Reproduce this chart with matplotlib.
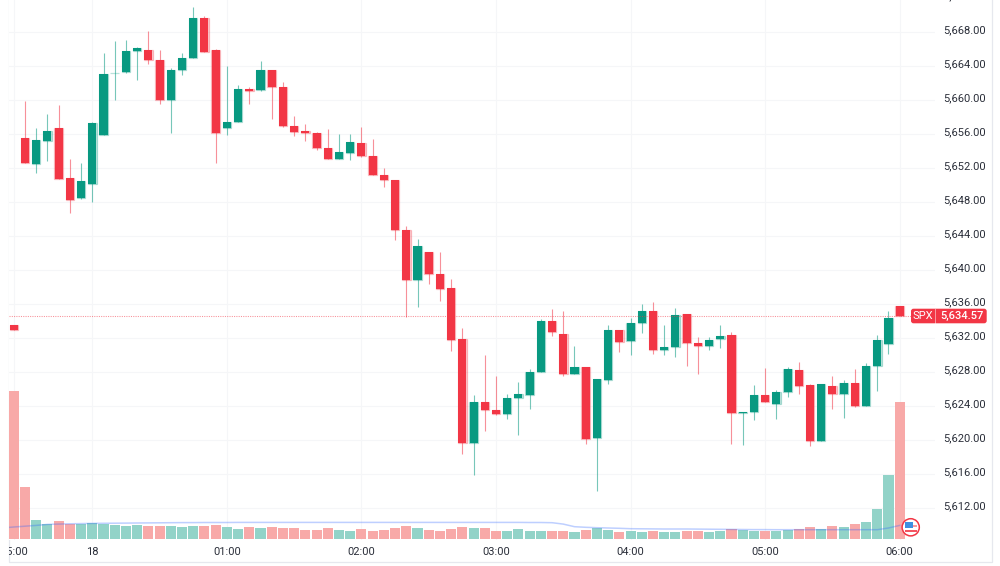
import matplotlib
matplotlib.use("Agg")
import matplotlib.pyplot as plt
from matplotlib.patches import Rectangle, Circle, FancyBboxPatch
from matplotlib.transforms import IdentityTransform, Bbox, ScaledTranslation
from matplotlib.lines import Line2D
import numpy as np

plt.rcParams["font.family"] = ["Roboto", "DejaVu Sans"]

# SPX 5-minute session
opens = [5633.53, 5655.51, 5652.41, 5655.15, 5656.65, 5650.83, 5648.43, 5650.12, 5655.90, 5663.09,
         5663.29, 5665.77, 5665.85, 5664.70, 5659.99, 5663.49, 5664.86, 5669.62, 5665.85, 5656.69,
         5657.43, 5661.25, 5661.13, 5663.44, 5661.49, 5656.92, 5656.33, 5656.13, 5654.29, 5653.03,
         5653.77, 5654.92, 5653.42, 5651.14, 5650.55, 5644.69, 5638.73, 5642.03, 5639.47, 5637.85,
         5631.81, 5619.62, 5624.49, 5623.47, 5623.08, 5624.88, 5625.28, 5627.91, 5633.96, 5632.48,
         5627.76, 5628.59, 5620.17, 5627.05, 5632.90, 5631.61, 5633.73, 5635.11, 5630.51, 5630.86,
         5634.84, 5631.37, 5631.06, 5631.81, 5632.31, 5623.11, 5623.28, 5625.24, 5624.22, 5625.64,
         5628.23, 5626.38, 5619.81, 5626.26, 5625.32, 5626.70, 5623.99, 5628.70, 5631.22, 5635.73]
closes = [5632.94, 5652.52, 5655.24, 5656.37, 5650.67, 5648.23, 5650.40, 5657.24, 5662.97, 5663.17,
          5665.68, 5666.04, 5664.62, 5659.95, 5663.49, 5664.86, 5669.62, 5665.61, 5656.10, 5657.36,
          5661.25, 5661.08, 5663.44, 5661.49, 5656.96, 5656.25, 5656.13, 5654.29, 5653.03, 5653.82,
          5655.00, 5653.35, 5651.14, 5650.55, 5644.62, 5638.73, 5642.77, 5639.55, 5637.78, 5631.77,
          5619.58, 5624.49, 5623.47, 5623.08, 5624.88, 5625.40, 5628.00, 5634.01, 5632.63, 5627.71,
          5628.59, 5620.13, 5627.12, 5632.90, 5631.53, 5633.69, 5635.11, 5630.51, 5630.90, 5634.72,
          5631.42, 5631.06, 5631.69, 5632.24, 5623.11, 5623.20, 5625.24, 5624.46, 5625.64, 5628.35,
          5626.26, 5619.81, 5626.58, 5625.40, 5626.65, 5623.99, 5628.66, 5631.69, 5634.36, 5634.57]
highs = [5633.53, 5659.87, 5656.72, 5658.34, 5659.36, 5653.00, 5652.52, 5657.43, 5665.49, 5666.86,
         5667.06, 5666.16, 5668.09, 5665.80, 5663.73, 5665.49, 5670.92, 5669.89, 5665.97, 5664.00,
         5661.76, 5661.44, 5664.59, 5663.44, 5662.08, 5658.07, 5657.16, 5656.25, 5656.53, 5655.94,
         5655.98, 5656.77, 5655.39, 5651.93, 5650.55, 5645.09, 5643.63, 5642.06, 5642.03, 5638.88,
         5633.18, 5625.28, 5629.92, 5627.44, 5625.40, 5626.73, 5628.27, 5634.25, 5635.43, 5635.19,
         5631.02, 5628.59, 5627.12, 5633.46, 5632.90, 5634.36, 5635.93, 5636.17, 5633.46, 5635.54,
         5634.84, 5632.08, 5632.08, 5633.54, 5632.67, 5623.23, 5626.38, 5628.39, 5625.79, 5628.54,
         5629.18, 5626.50, 5626.58, 5627.44, 5627.05, 5628.35, 5629.06, 5632.36, 5635.11, 5635.73]
lows = [5632.94, 5652.52, 5651.34, 5652.80, 5650.67, 5646.63, 5648.31, 5648.00, 5655.90, 5660.02,
        5663.14, 5662.26, 5664.15, 5659.52, 5656.10, 5662.94, 5664.86, 5665.61, 5652.59, 5655.86,
        5657.43, 5659.52, 5660.97, 5657.71, 5656.77, 5655.78, 5655.19, 5654.09, 5653.03, 5653.03,
        5652.91, 5653.30, 5651.14, 5649.76, 5643.44, 5634.44, 5635.61, 5638.29, 5636.32, 5630.39,
        5618.36, 5615.85, 5621.04, 5622.93, 5622.45, 5620.57, 5623.59, 5627.91, 5632.16, 5627.44,
        5627.76, 5619.46, 5613.92, 5626.53, 5630.35, 5629.95, 5632.60, 5630.12, 5629.92, 5629.72,
        5628.66, 5627.76, 5630.59, 5630.83, 5619.51, 5619.42, 5622.34, 5624.46, 5622.49, 5625.00,
        5625.32, 5619.31, 5619.81, 5623.59, 5622.52, 5623.82, 5623.99, 5625.67, 5630.04, 5634.57]
volumes = [1477, 513, 183, 143, 173, 150, 143, 153, 147, 140,
           130, 140, 130, 123, 127, 117, 127, 127, 133, 117,
           97, 117, 103, 120, 103, 110, 90, 90, 103, 87,
           80, 93, 73, 87, 103, 127, 103, 87, 80, 93,
           117, 107, 103, 80, 73, 93, 73, 73, 73, 80,
           67, 90, 107, 87, 67, 80, 63, 77, 67, 67,
           73, 73, 67, 77, 93, 90, 77, 80, 80, 83,
           97, 117, 100, 127, 113, 143, 170, 297, 633, 1367]
# Moving average of volume, beginning one bar before the first visible candle
volume_ma = [108, 117, 125, 133, 143, 146, 149, 151, 153, 154, 155,
             156, 157, 158, 159, 160, 161, 161, 162, 162, 162,
             163, 163, 163, 163, 163, 163, 163, 163, 163, 163,
             163, 163, 163, 163, 163, 163, 163, 163, 163, 163,
             163, 163, 163, 163, 163, 163, 162, 162, 160, 146,
             120, 114, 110, 107, 104, 100, 99, 98, 97, 97,
             97, 96, 95, 94, 93, 92, 91, 91, 90, 90,
             90, 90, 90, 90, 90, 90, 90, 90, 107, 133]

price_ticks = list(range(5612, 5676, 4))
time_positions = [0, 7, 19, 31, 43, 55, 67, 79]
time_labels = ["15:00", "18", "01:00", "02:00", "03:00", "04:00", "05:00", "06:00"]
last_price = 5634.57
symbol = "SPX"

GREEN = "#089981"
RED = "#f23645"
VOL_GREEN = "#92d3c8"
VOL_RED = "#f8a9a8"
GRID = "#f5f6f8"
BORDER = "#e6e8ee"
TEXT = "#2a2e39"
LABEL_SIZE = 8.0

W, H = 1000, 566
fig = plt.figure(figsize=(W / 100, H / 100), dpi=100, facecolor="white")

# Pane runs slightly above the canvas so the topmost price label is cut by its edge.
left, right, top, bottom = 8.5, 935.0, -20.0, 540.0
ax = fig.add_axes([left / W, (H - bottom) / H, (right - left) / W, (bottom - top) / H])
ax_vol = ax.twinx()
ax_candle = ax.twinx()

xlim = (-0.473, 82.148)
ylim = (5608.20, 5674.08)
for a in (ax, ax_vol, ax_candle):
    a.set_xlim(*xlim)
    for s in a.spines.values():
        s.set_visible(False)
ax.set_ylim(*ylim)
ax_candle.set_ylim(*ylim)
ax_vol.set_ylim(-13, 5587)

ax.set_zorder(1)
ax_vol.set_zorder(2)
ax_candle.set_zorder(3)
ax_vol.patch.set_visible(False)
ax_candle.patch.set_visible(False)
ax_vol.set_yticks([])
ax_candle.set_yticks([])

# Price scale on the right, time scale below
ax.yaxis.tick_right()
ax.set_yticks(price_ticks)
ax.set_yticklabels([f"{p:,.2f}" for p in price_ticks], fontsize=LABEL_SIZE, color=TEXT)
ax.tick_params(axis="y", length=0, pad=5.6)
lift = ScaledTranslation(0, 1.0 / 72, fig.dpi_scale_trans)
for lab in ax.get_yticklabels():
    lab.set_verticalalignment("center")
    lab.set_transform(lab.get_transform() + lift)
ax.set_xticks(time_positions)
ax.set_xticklabels(time_labels, fontsize=LABEL_SIZE, color=TEXT)
ax.tick_params(axis="x", length=0, pad=5.3)
ax.grid(True, color=GRID, lw=0.8)
ax.set_axisbelow(True)

# The first session label is cut by the pane's left edge
first = ax.get_xticklabels()[0]
first.set_clip_on(True)
first.set_clip_box(Bbox([[left, 0], [W, H]]))

x = np.arange(len(opens))
o, c, hi, lo, vol = map(np.array, (opens, closes, highs, lows, volumes))
up = c >= o
colors = np.where(up, GREEN, RED)
vol_colors = np.where(up, VOL_GREEN, VOL_RED)

# Volume pane and its moving average
ax_vol.bar(x, vol, width=0.9, color=vol_colors, linewidth=0)
ax_vol.plot(np.arange(-1, len(opens)), volume_ma, color="#2962ff", lw=1.1, alpha=0.3)

# Candles: wick, soft outline, solid body
ax_candle.vlines(x, lo, hi, colors=colors, lw=0.8, alpha=0.55)
ax_candle.bar(x, np.maximum(np.abs(c - o), 0.04), bottom=np.minimum(o, c), width=0.76,
              color=colors, edgecolor=colors, linewidth=0.9, alpha=0.28)
ax_candle.bar(x, np.maximum(np.abs(c - o), 0.04), bottom=np.minimum(o, c), width=0.72,
              color=colors, linewidth=0)

# Dotted guide at the last price
ax_candle.axhline(last_price, color=RED, lw=0.75, ls=(0, (1, 1.2)), alpha=0.55)

# Outer frame of the chart
idt = IdentityTransform()
fig.add_artist(Line2D([8.5, 8.5, 991.7, 991.7], [H, H - 562.3, H - 562.3, H],
                      transform=idt, color=BORDER, lw=0.9, zorder=0))

# Last-price tag
FRONT = 20
tag_top, tag_bottom = 308.7, 323.3
fig.add_artist(FancyBboxPatch((911.0, H - tag_bottom), 75.7, tag_bottom - tag_top,
                              boxstyle="round,pad=0,rounding_size=2.5",
                              transform=idt, facecolor=RED, edgecolor="none", zorder=FRONT))
fig.add_artist(Line2D([935.0, 935.0], [H - tag_top, H - tag_bottom], transform=idt,
                      color="white", lw=0.7, alpha=0.5, zorder=FRONT + 1))
mid = (H - (tag_top + tag_bottom) / 2) / H
fig.text(923 / W, mid, symbol, color="white", fontsize=LABEL_SIZE, ha="center", va="center",
         zorder=FRONT + 1)
fig.text(962 / W, mid, f"{last_price:,.2f}", color="white", fontsize=LABEL_SIZE,
         ha="center", va="center", fontweight="medium", zorder=FRONT + 1)

# Market-status badge with a small US flag
cx, cy, r = 910.7, H - 527.3, 8.6
fig.add_artist(Circle((cx, cy), r, transform=idt, facecolor="white", edgecolor=RED, lw=1.1, zorder=FRONT))
fig.add_artist(Rectangle((cx - 6.0, cy - 5.0), 12.0, 2.4, transform=idt, facecolor=RED,
                         edgecolor="none", alpha=0.85, zorder=FRONT + 1))
fig.add_artist(Rectangle((cx - 1.0, cy + 0.4), 7.0, 1.6, transform=idt, facecolor=RED,
                         edgecolor="none", alpha=0.5, zorder=FRONT + 1))
fig.add_artist(Rectangle((cx - 6.0, cy - 1.0), 8.0, 6.6, transform=idt, facecolor="#3d8fe0",
                         edgecolor="none", zorder=FRONT + 2))

fig.savefig("out.png", dpi=100, facecolor="white")
